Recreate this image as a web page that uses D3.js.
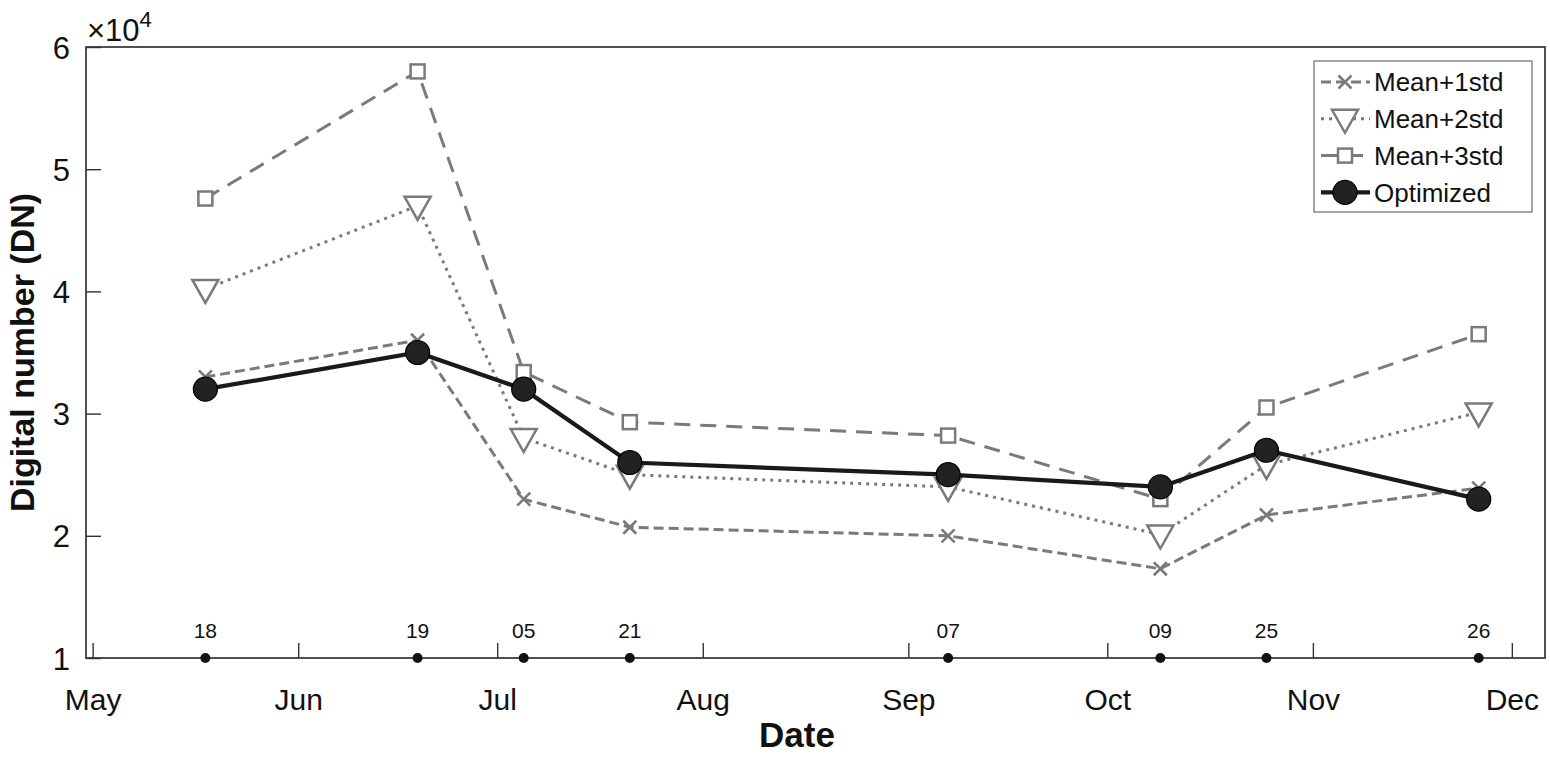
<!DOCTYPE html>
<html>
<head>
<meta charset="utf-8">
<script src="https://cdn.jsdelivr.net/npm/d3@7"></script>
<style>
  body { margin: 0; background: #fff; }
  svg { font-family: "Liberation Sans", Arial, sans-serif; }
</style>
</head>
<body>
<script>
// acquisition dates and values (x 10^4 DN)
var dates = ["2017-05-18", "2017-06-19", "2017-07-05", "2017-07-21", "2017-09-07", "2017-10-09", "2017-10-25", "2017-11-26"];
var dayLabels = ["18", "19", "05", "21", "07", "09", "25", "26"];
var mean1std = [3.3, 3.6, 2.3, 2.07, 2.0, 1.73, 2.17, 2.39];
var mean2std = [4.02, 4.7, 2.8, 2.5, 2.4, 2.01, 2.58, 3.01];
var mean3std = [4.76, 5.8, 3.34, 2.93, 2.82, 2.3, 3.05, 3.65];
var optimized = [3.2, 3.5, 3.2, 2.6, 2.5, 2.4, 2.7, 2.3];
var monthTicks = ["2017-05-01", "2017-06-01", "2017-07-01", "2017-08-01", "2017-09-01", "2017-10-01", "2017-11-01", "2017-12-01"];
var yTicks = [1, 2, 3, 4, 5, 6];

var W = 1550, H = 757;
// plot box edges (note: "top" is reserved on window)
var boxL = 86, boxR = 1545, boxT = 47, boxB = 658;
var parse = d3.timeParse("%Y-%m-%d");

var x = d3.scaleTime()
    .domain([parse("2017-04-30"), parse("2017-12-06")])
    .range([boxL, boxR]);
var y = d3.scaleLinear().domain([1, 6]).range([boxB, boxT]);

var svg = d3.select("body").append("svg")
    .attr("width", W)
    .attr("height", H);

var gray = "#7a7a7a";

// x axis (inward ticks, month labels)
var xAxis = svg.append("g")
    .attr("transform", "translate(0," + boxB + ")")
    .call(d3.axisBottom(x)
        .tickValues(monthTicks.map(parse))
        .tickFormat(d3.timeFormat("%b"))
        .tickSizeInner(-15)
        .tickSizeOuter(0)
        .tickPadding(31));
xAxis.select(".domain").remove();
xAxis.selectAll("line").attr("stroke", "#333").attr("stroke-width", 1.4);
xAxis.selectAll("text").attr("font-size", 30).attr("fill", "#111");

// y axis
var yAxis = svg.append("g")
    .attr("transform", "translate(" + boxL + ",0)")
    .call(d3.axisLeft(y)
        .tickValues(yTicks)
        .tickFormat(d3.format("d"))
        .tickSizeInner(-15)
        .tickSizeOuter(0)
        .tickPadding(16));
yAxis.select(".domain").remove();
yAxis.selectAll("line").attr("stroke", "#333").attr("stroke-width", 1.4);
yAxis.selectAll("text").attr("font-size", 31).attr("fill", "#111").attr("dy", "0.36em");

// box
svg.append("rect")
    .attr("x", boxL).attr("y", boxT)
    .attr("width", boxR - boxL).attr("height", boxB - boxT)
    .attr("fill", "none").attr("stroke", "#333").attr("stroke-width", 1.7);

// exponent label
var ex = svg.append("text").attr("x", 87).attr("y", 41).attr("font-size", 31).attr("fill", "#111");
ex.append("tspan").text("\u00d710");
ex.append("tspan").attr("font-size", 22).attr("dy", -14).text("4");

// axis titles
svg.append("text")
    .attr("transform", "translate(34," + ((boxT + boxB) / 2) + ") rotate(-90)")
    .attr("text-anchor", "middle")
    .attr("font-size", 34).attr("font-weight", "bold").attr("fill", "#111")
    .text("Digital number (DN)");
svg.append("text")
    .attr("x", 797).attr("y", 747)
    .attr("text-anchor", "middle")
    .attr("font-size", 35).attr("font-weight", "bold").attr("fill", "#111")
    .text("Date");

// acquisition markers on the x axis
var pts = dates.map(parse);
svg.selectAll(".dateDot").data(pts).enter().append("circle")
    .attr("cx", function(d) { return x(d); })
    .attr("cy", boxB)
    .attr("r", 5)
    .attr("fill", "#111");
svg.selectAll(".dateLbl").data(pts).enter().append("text")
    .attr("x", function(d) { return x(d); })
    .attr("y", 638)
    .attr("text-anchor", "middle")
    .attr("font-size", 21).attr("fill", "#111")
    .text(function(d, i) { return dayLabels[i]; });

var series = [
  { name: "Mean+1std", values: mean1std, dash: "10,5", marker: "x", color: gray, width: 3 },
  { name: "Mean+2std", values: mean2std, dash: "3,5", marker: "tri", color: gray, width: 3 },
  { name: "Mean+3std", values: mean3std, dash: "16,10", marker: "sq", color: gray, width: 3 },
  { name: "Optimized", values: optimized, dash: null, marker: "dot", color: "#1a1a1a", width: 4.2 }
];

var line = d3.line()
    .x(function(d) { return x(d.date); })
    .y(function(d) { return y(d.v); });

function drawMarker(g, type, cx, cy, color) {
  if (type === "x") {
    g.append("path")
      .attr("d", "M" + (cx - 6.5) + "," + (cy - 6.5) + "L" + (cx + 6.5) + "," + (cy + 6.5) +
                 "M" + (cx + 6.5) + "," + (cy - 6.5) + "L" + (cx - 6.5) + "," + (cy + 6.5))
      .attr("stroke", color).attr("stroke-width", 2.6).attr("fill", "none");
  } else if (type === "tri") {
    g.append("path")
      .attr("d", "M" + (cx - 13) + "," + (cy - 9) + "L" + (cx + 13) + "," + (cy - 9) +
                 "L" + cx + "," + (cy + 14) + "Z")
      .attr("stroke", color).attr("stroke-width", 2.5).attr("fill", "#fff");
  } else if (type === "sq") {
    g.append("rect")
      .attr("x", cx - 7).attr("y", cy - 7).attr("width", 14).attr("height", 14)
      .attr("stroke", color).attr("stroke-width", 2.5).attr("fill", "#fff");
  } else {
    g.append("circle")
      .attr("cx", cx).attr("cy", cy).attr("r", 12)
      .attr("stroke", "#000").attr("stroke-width", 1.2).attr("fill", "#222");
  }
}

series.forEach(function(s) {
  var data = pts.map(function(d, i) { return { date: d, v: s.values[i] }; });
  var g = svg.append("g");
  g.append("path")
      .datum(data)
      .attr("d", line)
      .attr("fill", "none")
      .attr("stroke", s.color)
      .attr("stroke-width", s.width)
      .attr("stroke-dasharray", s.dash);
  data.forEach(function(d) {
    drawMarker(g, s.marker, x(d.date), y(d.v), s.color);
  });
});

// legend
var lg = svg.append("g");
lg.append("rect")
    .attr("x", 1314).attr("y", 61).attr("width", 218).attr("height", 151)
    .attr("fill", "#fff").attr("stroke", "#888").attr("stroke-width", 1.5);
series.forEach(function(s, i) {
  var cy = 82 + i * 36.8;
  lg.append("line")
      .attr("x1", 1321).attr("x2", 1370).attr("y1", cy).attr("y2", cy)
      .attr("stroke", s.color).attr("stroke-width", s.width)
      .attr("stroke-dasharray", s.dash);
  drawMarker(lg, s.marker, 1345, cy, s.color);
  lg.append("text")
      .attr("x", 1374).attr("y", cy).attr("dy", "0.35em")
      .attr("font-size", 26).attr("fill", "#111")
      .text(s.name);
});
</script>
</body>
</html>
